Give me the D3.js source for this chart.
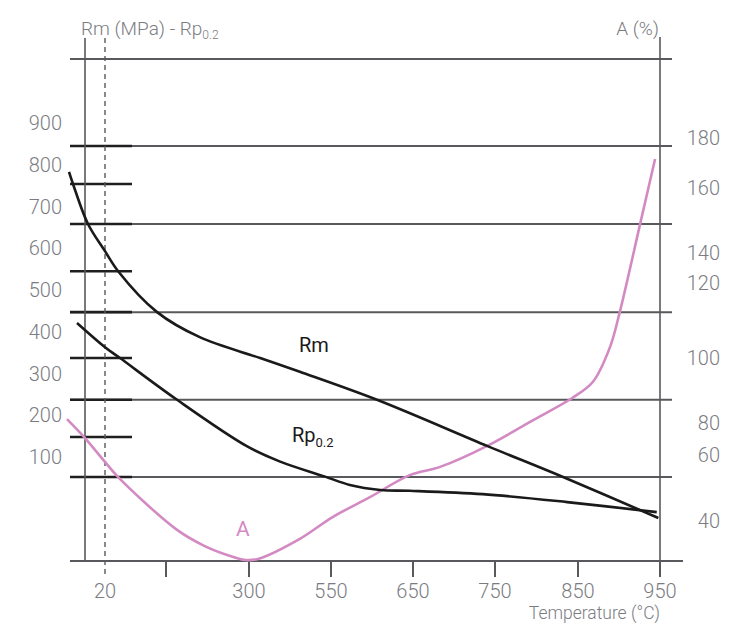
<!DOCTYPE html>
<html><head><meta charset="utf-8">
<script src="https://cdn.jsdelivr.net/npm/d3@7"></script>
<style>body{margin:0;background:#fff}svg{display:block}</style>
</head><body>
<script>
// ---- data ----
const xTickTemps = [150, 300, 550, 650, 750, 850, 950];
const xTickLabels = ["", "300", "550", "650", "750", "850", "950"];
const refTemp = 20;
const leftTicks = [900, 800, 700, 600, 500, 400, 300, 200, 100];
const rightTicks = [180, 160, 140, 120, 100, 80, 60, 40];
const gridMPa = [1053, 845, 658, 447, 237, 52];
const minorMPa = [754, 545, 337, 148];
const rmT   = [-16, -12, 3, 20, 48, 131, 211, 334, 455, 606, 741, 832, 948];
const rmV   = [783, 754, 658, 593, 545, 447, 387, 337, 304, 237, 126, 52, -46];
const rpT   = [-8, 20, 52, 170, 296, 395, 532, 573, 610, 646, 735, 837, 946];
const rpV   = [421, 363, 337, 237, 126, 89, 53, 33, 21, 19, 11, -8, -32];
const aT    = [-18, 0, 20, 48, 170, 220, 266, 293, 327, 455, 552, 598, 646, 683, 740, 796, 843, 868, 889, 901, 926, 944];
const aV    = [81.2, 70.6, 57.9, 53.3, 37.3, 32.4, 29.4, 28.2, 28.5, 34.6, 41.2, 47.3, 53.9, 56.4, 65.6, 80.9, 87.7, 92.6, 102.9, 112.3, 149.2, 171.6];

const W = 739, H = 623;
const svg = d3.select("body").append("svg").attr("width", W).attr("height", H);

const x = d3.scaleLinear()
  .domain([0, 20, 150, 300, 550, 650, 750, 850, 950])
  .range([85, 105, 166, 249, 331, 413, 495, 578, 660]);
const yL = d3.scaleLinear().domain([100, 900]).range([457, 123]);
const yR = d3.scaleLinear()
  .domain([40, 60, 80, 100, 120, 140, 160, 180])
  .range([521, 455, 423, 358, 283, 253, 188, 138]);

const gray = "#58595d", textGray = "#7b7c82", pink = "#d38ac3", black = "#1a1a1a";
const font = "Roboto, 'Open Sans', sans-serif";

const x0 = 70, x1 = 672, bottom = 561;

// long grid lines
svg.append("g").selectAll("line").data(gridMPa).join("line")
  .attr("x1", x0).attr("x2", x1)
  .attr("y1", d => yL(d)).attr("y2", d => yL(d))
  .attr("stroke", gray).attr("stroke-width", 2);

// short thick ticks
svg.append("g").selectAll("line").data(gridMPa.slice(1).concat(minorMPa)).join("line")
  .attr("x1", x0).attr("x2", 132)
  .attr("y1", d => yL(d)).attr("y2", d => yL(d))
  .attr("stroke", "#1f1f1f").attr("stroke-width", 2.6);

// vertical axes
svg.append("line").attr("x1", x(0)).attr("x2", x(0)).attr("y1", 38).attr("y2", bottom)
  .attr("stroke", gray).attr("stroke-width", 1.6);
svg.append("line").attr("x1", x(950)).attr("x2", x(950)).attr("y1", 37).attr("y2", 577)
  .attr("stroke", gray).attr("stroke-width", 1.6);
svg.append("line").attr("x1", x(refTemp)).attr("x2", x(refTemp)).attr("y1", 38).attr("y2", 577)
  .attr("stroke", gray).attr("stroke-width", 1.4).attr("stroke-dasharray", "5,4");

// bottom axis
svg.append("line").attr("x1", x0).attr("x2", 683).attr("y1", bottom).attr("y2", bottom)
  .attr("stroke", gray).attr("stroke-width", 2);
svg.append("g").selectAll("line").data(xTickTemps).join("line")
  .attr("x1", d => x(d)).attr("x2", d => x(d)).attr("y1", bottom).attr("y2", 577)
  .attr("stroke", gray).attr("stroke-width", 2);

// x labels
svg.append("g").selectAll("text").data(xTickTemps).join("text")
  .attr("x", d => x(d)).attr("y", 598).attr("text-anchor", "middle")
  .attr("font-family", font).attr("font-weight", 300).attr("font-size", 20).attr("fill", textGray)
  .text((d, i) => xTickLabels[i]);
svg.append("text").attr("x", x(refTemp)).attr("y", 598).attr("text-anchor", "middle")
  .attr("font-family", font).attr("font-weight", 300).attr("font-size", 20).attr("fill", textGray)
  .text(String(refTemp));

// left labels
svg.append("g").selectAll("text").data(leftTicks).join("text")
  .attr("x", 62).attr("y", d => yL(d)).attr("dy", "0.36em").attr("text-anchor", "end")
  .attr("font-family", font).attr("font-weight", 300).attr("font-size", 20).attr("fill", textGray)
  .text(d => d);
// right labels
svg.append("g").selectAll("text").data(rightTicks).join("text")
  .attr("x", 720).attr("y", d => yR(d)).attr("dy", "0.36em").attr("text-anchor", "end")
  .attr("font-family", font).attr("font-weight", 300).attr("font-size", 20).attr("fill", textGray)
  .text(d => d);

// titles
const t1 = svg.append("text").attr("x", 81).attr("y", 35)
  .attr("font-family", font).attr("font-weight", 300).attr("font-size", 19).attr("fill", textGray);
t1.append("tspan").text("Rm (MPa) - Rp");
t1.append("tspan").attr("font-size", 12).attr("dy", 4).text("0.2");
svg.append("text").attr("x", 659).attr("y", 35).attr("text-anchor", "end")
  .attr("font-family", font).attr("font-weight", 300).attr("font-size", 19).attr("fill", textGray)
  .text("A (%)");
svg.append("text").attr("x", 660).attr("y", 619).attr("text-anchor", "end")
  .attr("font-family", font).attr("font-weight", 300).attr("font-size", 17.5).attr("fill", textGray)
  .text("Temperature (°C)");

// curves
const line = (ys) => d3.line().x(d => x(d[0])).y(d => ys(d[1])).curve(d3.curveCatmullRom.alpha(0.5));
svg.append("path").datum(d3.zip(aT, aV)).attr("d", line(yR))
  .attr("fill", "none").attr("stroke", pink).attr("stroke-width", 2.6);
svg.append("path").datum(d3.zip(rmT, rmV)).attr("d", line(yL))
  .attr("fill", "none").attr("stroke", black).attr("stroke-width", 2.6);
svg.append("path").datum(d3.zip(rpT, rpV)).attr("d", line(yL))
  .attr("fill", "none").attr("stroke", black).attr("stroke-width", 2.6);

// curve labels
svg.append("text").attr("x", 299).attr("y", 352)
  .attr("font-family", font).attr("font-size", 20).attr("fill", black).text("Rm");
const t2 = svg.append("text").attr("x", 292).attr("y", 442)
  .attr("font-family", font).attr("font-size", 20).attr("fill", black);
t2.append("tspan").text("Rp");
t2.append("tspan").attr("font-size", 13).attr("dy", 5).text("0.2");
svg.append("text").attr("x", 236).attr("y", 536)
  .attr("font-family", font).attr("font-size", 21).attr("fill", pink).text("A");
</script>
</body></html>
